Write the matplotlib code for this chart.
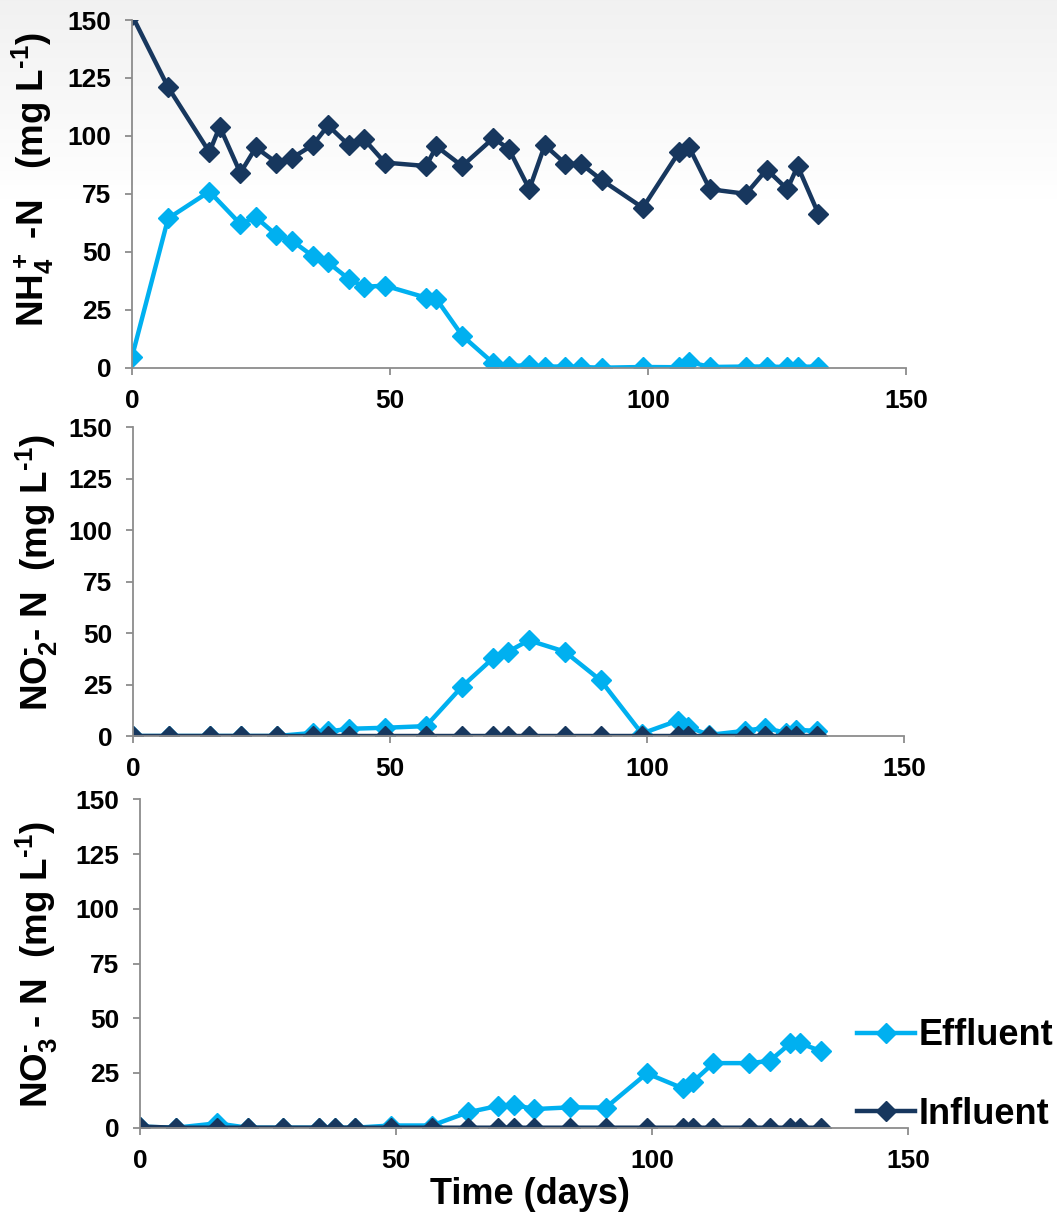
import numpy as np
import matplotlib
matplotlib.use("Agg")
import matplotlib.pyplot as plt

plt.rcParams["font.family"] = ["Liberation Sans", "DejaVu Sans"]
plt.rcParams["font.weight"] = "bold"
plt.rcParams["mathtext.fontset"] = "custom"
plt.rcParams["mathtext.rm"] = "Liberation Sans:bold"
plt.rcParams["mathtext.it"] = "Liberation Sans:bold"
plt.rcParams["mathtext.bf"] = "Liberation Sans:bold"

# ---- data -------------------------------------------------------------
days_nh4_inf = [0, 7, 15, 17, 21, 24, 28, 31, 35, 38, 42, 45, 49, 57, 59, 64,
                70, 73, 77, 80, 84, 87, 91, 99, 106, 108, 112, 119, 123, 127, 129, 133]
nh4_inf = [152, 121, 93, 104, 84, 95, 88.5, 90.5, 96, 104.5, 96, 98.5, 88.5, 87, 95.5, 87,
           99, 94.5, 77, 96, 88, 88, 81, 69, 93, 95, 77, 75, 85.5, 77, 87, 66.5]

days_nh4_eff = [0, 7, 15, 21, 24, 28, 31, 35, 38, 42, 45, 49, 57, 59, 64,
                70, 73, 77, 80, 84, 87, 91, 99, 106, 108, 112, 119, 123, 127, 129, 133]
nh4_eff = [4.7, 64.4, 76, 62, 64.9, 57.2, 54.8, 48.2, 45.4, 38.3, 34.9, 35.4, 30.2, 29.6, 13.8,
           2, 0.8, 1, 0.5, 0.5, 0.3, 0, 0.3, 0.2, 2.5, 0.3, 0.5, 0.5, 0.3, 0.4, 0.5]

days_no = [0, 7, 15, 21, 28, 35, 38, 42, 49, 57, 64, 70, 73, 77, 84, 91,
           99, 106, 108, 112, 119, 123, 127, 129, 133]
no2_eff = [0, 0, 0, 0, 0, 1.5, 2.2, 3.5, 4, 4.8, 24, 37.7, 41, 46.5, 41, 27,
           1.2, 7.5, 4.5, 0.5, 2.5, 4, 1.5, 3, 2.5]
no2_inf = [0, 0, 0, 0, 0, 0, 0, 0, 0, 0, 0, 0, 0, 0, 0, 0,
           0, 0, 0, 0, 0, 0, 0, 0, 0]
no3_eff = [0.5, 0, 2, 0, 0, 0, 0, 0, 1, 1, 7, 10, 10.5, 8.5, 9.3, 9.2,
           24.8, 18, 21, 29.5, 29.5, 30.5, 38.5, 38.5, 35]
no3_inf = [0.5, 0, 0, 0, 0, 0, 0, 0, 0, 0, 0, 0, 0, 0, 0, 0,
           0, 0, 0, 0, 0, 0, 0, 0, 0]

x_ticks = [0, 50, 100, 150]
y_ticks = [0, 25, 50, 75, 100, 125, 150]
series_names = ["Effluent", "Influent"]
y_labels = [r"NH$_4^+$ -N   (mg L$^{\text{-}1}$)",
            r"NO$_2^{\text{-}}$- N  (mg L$^{\text{-}1}$)",
            r"NO$_3^{\text{-}}$ - N  (mg L$^{\text{-}1}$)"]
x_label = "Time (days)"

# ---- styling ----------------------------------------------------------
W, H = 1057, 1215
EFF_C = "#00B0F0"
INF_C = "#17375E"
AX_C = "#8C8C8C"

fig = plt.figure(figsize=(W / 100, H / 100), dpi=100)

# soft grey gradient at the top of the page
bg = fig.add_axes([0, 0, 1, 1], zorder=-10)
grad = np.linspace(0.945, 1.0, 200)
col = np.ones((H, 1, 3))
col[:200, 0, :] = grad[:, None]
bg.imshow(col, aspect="auto", extent=[0, 1, 0, 1], origin="upper")
bg.set_axis_off()


def px_axes(left, right, top, bottom):
    return fig.add_axes([left / W, 1 - bottom / H, (right - left) / W, (bottom - top) / H])


panels = [
    (px_axes(132, 906, 20, 367.7), days_nh4_eff, nh4_eff, days_nh4_inf, nh4_inf, 33, 180),
    (px_axes(133, 904, 427.3, 736), days_no, no2_eff, days_no, no2_inf, 37, 573),
    (px_axes(140, 908, 799.3, 1127.7), days_no, no3_eff, days_no, no3_inf, 37, 964),
]

handles = []
for i, (ax, xe, ye, xi, yi, lx, ly) in enumerate(panels):
    ax.set_facecolor("none")
    he, = ax.plot(xe, ye, color=EFF_C, lw=3.2, marker="D", ms=10.5, mec=EFF_C,
                  solid_joinstyle="round", label=series_names[0])
    hi, = ax.plot(xi, yi, color=INF_C, lw=3.2, marker="D", ms=10.5, mec=INF_C,
                  solid_joinstyle="round", label=series_names[1])
    if i == 0:
        handles = [he, hi]
    ax.set_xlim(0, 150)
    ax.set_ylim(0, 150)
    ax.set_xticks(x_ticks)
    ax.set_yticks(y_ticks)
    for s in ["top", "right"]:
        ax.spines[s].set_visible(False)
    for s in ["left", "bottom"]:
        ax.spines[s].set_color(AX_C)
        ax.spines[s].set_linewidth(1.3)
    ax.tick_params(axis="both", colors=AX_C, length=5, width=1.3, direction="out",
                   labelsize=19, labelcolor="black", pad=10)
    for lab in ax.get_xticklabels() + ax.get_yticklabels():
        lab.set_fontweight("bold")
    fig.text(lx / W, 1 - ly / H, y_labels[i], rotation=90, ha="center", va="center",
             fontsize=26.5, fontweight="bold")

fig.text(530 / W, 1 - 1195 / H, x_label, ha="center", va="center",
         fontsize=26, fontweight="bold")

fig.legend(handles, series_names, loc="center left",
           bbox_to_anchor=(857 / W, 1 - 1075 / H), frameon=False,
           handlelength=1.6, handletextpad=0.1,
           labelspacing=1.2, borderpad=0, borderaxespad=0,
           prop={"weight": "bold", "size": 26})

fig.savefig("out.png", dpi=100)
